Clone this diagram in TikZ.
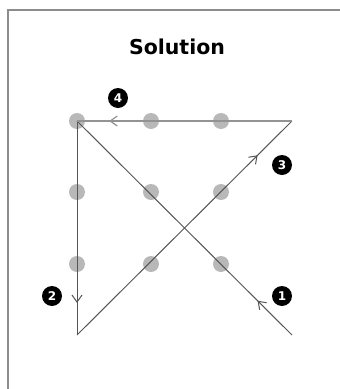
\documentclass[tikz,border=0pt]{standalone}
\usepackage{fontspec}
\setmainfont{DejaVu Sans}
\usetikzlibrary{arrows.meta,decorations.markings}
\definecolor{dotgray}{HTML}{B8B8B8}
\definecolor{linegray}{HTML}{555555}
\definecolor{framegray}{HTML}{8C8C8C}

\begin{document}
\begin{tikzpicture}[
    x=1pt, y=-1pt,
    dot/.style={circle, fill=dotgray, inner sep=0pt, minimum size=16pt},
    badge/.style={circle, fill=black, text=white, inner sep=0pt, minimum size=20pt, font=\bfseries\fontsize{12}{12}\selectfont},
    stroke/.style={draw=linegray, line width=1pt},
    midarrow/.style={postaction={decorate}, decoration={markings,
        mark=at position #1 with {\arrow{Straight Barb[length=7pt, width=10pt]}}}}
    ]
\useasboundingbox (0,0) rectangle (340,389);

% Frame and title
\draw[framegray, line width=1.5pt] (8,389) -- (8,10) -- (340,10);
\node (title) at (177,47) {\bfseries\fontsize{20.5}{20.5}\selectfont Solution};

% Grid of dots
\foreach \c/\x in {1/77,2/151,3/221} {
  \foreach \r/\y in {1/121,2/192,3/264} {
    \node[dot] (d\r\c) at (\x,\y) {};
  }
}

% Turning points
\coordinate (start) at (292,335);
\coordinate (corner) at (77,335);
\coordinate (tip) at (292,121);

% Path of the solution
\draw[stroke, midarrow=0.16] (start) -- (d11.center);
\draw[stroke, midarrow=0.85] (d11.center) -- (corner);
\draw[stroke, midarrow=0.84] (corner) -- (tip);
\draw[draw=dotgray!80!black, line width=1.2pt, midarrow=0.85] (tip) -- (d11.center);

% Step numbers
\node[badge] (n1) at (282,296) {1};
\node[badge] (n2) at (52,296) {2};
\node[badge] (n3) at (282,165) {3};
\node[badge] (n4) at (118,98) {4};

\end{tikzpicture}
\end{document}
